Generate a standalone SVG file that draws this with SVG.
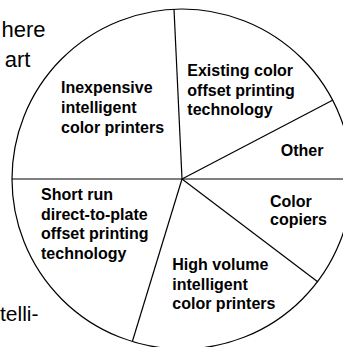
<svg xmlns="http://www.w3.org/2000/svg" width="343" height="347" viewBox="0 0 343 347">
<style>
.ln{stroke:#000;stroke-width:1.2;fill:none}
.lbl{font-family:"Liberation Sans",Arial,sans-serif;font-weight:bold;font-size:16px;fill:#000}
.side{font-family:"Liberation Sans",Arial,sans-serif;font-size:22px;fill:#000;text-anchor:end}
</style>
<rect width="343" height="347" fill="#fff"/>
<g id="side-text">
<text class="side" x="45.5" y="37">here</text>
<text class="side" x="30.5" y="66.7">art</text>
<text class="side" x="38.5" y="321" style="font-size:21px">telli-</text>
</g>
<g id="connectors">
<circle class="ln" cx="182" cy="179" r="170"/>
<line class="ln" x1="182" y1="179" x2="174" y2="9"/>
<line class="ln" x1="182" y1="179" x2="333" y2="100"/>
<line class="ln" x1="12" y1="179" x2="352" y2="179"/>
<line class="ln" x1="182" y1="179" x2="318" y2="282"/>
<line class="ln" x1="182" y1="179" x2="132.5" y2="341"/>
</g>
<g id="inexpensive">
<text class="lbl" x="61" y="93.3">Inexpensive</text>
<text class="lbl" x="61" y="113">intelligent</text>
<text class="lbl" x="61" y="132.7">color printers</text>
</g>
<g id="existing">
<text class="lbl" x="187.3" y="75.7">Existing color</text>
<text class="lbl" x="187.3" y="95.5">offset printing</text>
<text class="lbl" x="187.3" y="115">technology</text>
</g>
<g id="other">
<text class="lbl" x="280.7" y="155.7">Other</text>
</g>
<g id="copiers">
<text class="lbl" x="270" y="206.7">Color</text>
<text class="lbl" x="270" y="225">copiers</text>
</g>
<g id="highvolume">
<text class="lbl" x="172.3" y="270">High volume</text>
<text class="lbl" x="172.3" y="289.5">intelligent</text>
<text class="lbl" x="172.3" y="309.3">color printers</text>
</g>
<g id="shortrun">
<text class="lbl" x="41" y="200">Short run</text>
<text class="lbl" x="41" y="219.5">direct-to-plate</text>
<text class="lbl" x="41" y="239.2">offset printing</text>
<text class="lbl" x="41" y="258.7">technology</text>
</g>
</svg>
